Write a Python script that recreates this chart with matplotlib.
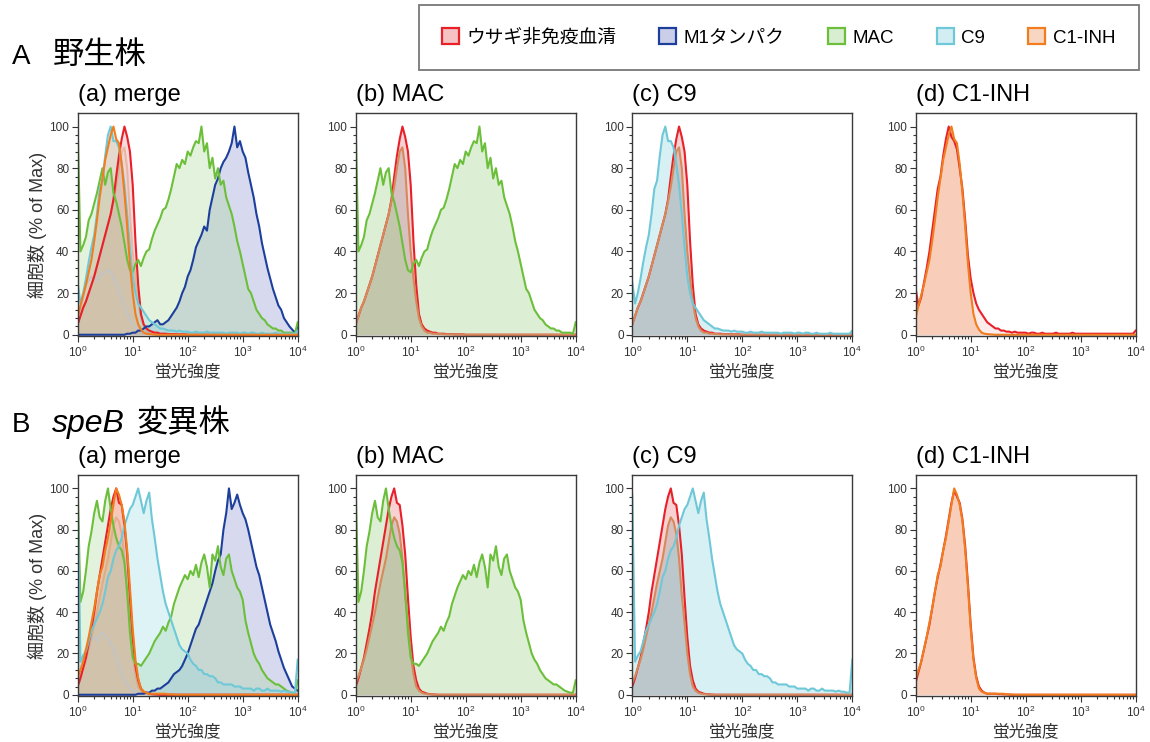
import numpy as np
import matplotlib.pyplot as plt
from matplotlib.patches import Patch
from matplotlib.ticker import FixedLocator, FuncFormatter, LogLocator, NullFormatter

# フォント設定（ラテン文字 + 日本語フォールバック）
plt.rcParams['font.family'] = ['Liberation Sans', 'Noto Sans CJK JP']
plt.rcParams['mathtext.fontset'] = 'custom'
plt.rcParams['mathtext.rm'] = 'Liberation Sans'
plt.rcParams['mathtext.it'] = 'Liberation Sans:italic'

# ヒストグラムのビン位置 (log10 蛍光強度, 0.05 刻み)
bins_log10 = np.arange(81) * 0.05

# ---- A 野生株 ----
A_red = [5, 9, 13, 16, 20, 24, 28, 33, 38, 43,
         48, 53, 58, 65, 76, 86, 94, 100, 95, 88,
         72, 45, 24, 10, 5, 3, 2, 1.5, 1, 1,
         0.5, 0.5, 0.5, 0.3, 0.3, 0.3, 0.2, 0.2, 0.2, 0.2,
         0, 0, 0, 0, 0, 0, 0, 0, 0, 0,
         0, 0, 0, 0, 0, 0, 0, 0, 0, 0,
         0, 0, 0, 0, 0, 0, 0, 0, 0, 0,
         0, 0, 0, 0, 0, 0, 0, 0, 0, 0,
         0]
A_red_d = [22, 14, 18, 25, 32, 40, 50, 60, 70, 76,
           86, 94, 100, 95, 93, 89, 80, 70, 55, 38,
           27, 20, 15, 12, 10, 8, 6, 5, 4, 3,
           3, 2, 2, 1.5, 1.5, 1, 1.5, 1, 1, 1,
           1, 0.5, 1, 1, 0.5, 0.5, 1, 0.5, 0.5, 0.5,
           0.5, 1, 0.5, 0.5, 0.5, 0.5, 0.5, 1, 0.5, 0.5,
           0.5, 0.5, 0.5, 0.5, 0.5, 0.5, 0.5, 0.5, 0.5, 0.5,
           0.5, 0.5, 0.5, 0.5, 0.5, 0.5, 0.5, 0.5, 0.5, 0.5,
           2]
A_blue = [0, 0, 0, 0, 0, 0, 0, 0, 0, 0,
          0, 0, 0, 0, 0, 0, 0, 0, 0.5, 0.5,
          1, 1, 2, 2, 3, 4, 4, 5, 6, 7,
          5, 5, 6, 7, 9, 11, 13, 16, 20, 23,
          28, 31, 36, 42, 45, 48, 52, 50, 60, 66,
          72, 75, 80, 83, 85, 88, 92, 100, 90, 93,
          88, 85, 78, 72, 66, 58, 52, 44, 38, 32,
          27, 22, 18, 14, 12, 8, 6, 4, 2.5, 1,
          4]
A_green = [100, 40, 43, 47, 55, 58, 63, 68, 74, 80,
           72, 78, 80, 68, 64, 58, 52, 44, 36, 31,
           30, 34, 36, 33, 37, 40, 41, 46, 50, 53,
           56, 60, 61, 65, 70, 76, 82, 80, 84, 82,
           88, 86, 90, 93, 92, 100, 88, 92, 80, 85,
           75, 80, 72, 74, 66, 62, 58, 52, 45, 40,
           34, 28, 22, 20, 16, 12, 10, 8, 7, 5,
           4, 3, 3, 2, 2, 1, 1, 1, 1, 0.5,
           6]
A_cyan = [25, 15, 20, 27, 35, 42, 48, 58, 70, 74,
          86, 96, 100, 93, 93, 90, 82, 72, 58, 42,
          28, 20, 15, 13, 11, 9, 7, 6, 5, 4,
          3, 3, 2.5, 2, 2, 2, 1.5, 2, 1.5, 1.5,
          1.5, 1, 1, 1.5, 1, 1, 1, 1.5, 1, 1,
          1, 1, 1, 1, 0.5, 1, 1, 1, 1, 0.5,
          1, 1, 0.5, 1, 1, 0.5, 0.5, 1, 0.5, 0.5,
          0.5, 0.5, 1, 0.5, 0.5, 0.5, 0.5, 0.5, 0.5, 0.5,
          2]
A_orange = [8, 14, 19, 24, 30, 36, 45, 55, 66, 75,
            84, 90, 96, 100, 94, 92, 82, 68, 52, 34,
            20, 10, 5, 2.5, 1, 0.5, 0.3, 0.2, 0.1, 0,
            0, 0, 0, 0, 0, 0, 0, 0, 0, 0,
            0, 0, 0, 0, 0, 0, 0, 0, 0, 0,
            0, 0, 0, 0, 0, 0, 0, 0, 0, 0,
            0, 0, 0, 0, 0, 0, 0, 0, 0, 0,
            0, 0, 0, 0, 0, 0, 0, 0, 0, 0,
            0]
A_ctrl = [5, 9, 13, 16, 20, 24, 28, 33, 38, 43,
          48, 53, 58, 64, 71, 80, 88, 90, 80, 58,
          40, 27, 16, 8, 4, 2, 1, 1, 0.5, 0.5,
          0.3, 0.3, 0.2, 0.2, 0.2, 0.2, 0.1, 0.1, 0.1, 0.1,
          0, 0, 0, 0, 0, 0, 0, 0, 0, 0,
          0, 0, 0, 0, 0, 0, 0, 0, 0, 0,
          0, 0, 0, 0, 0, 0, 0, 0, 0, 0,
          0, 0, 0, 0, 0, 0, 0, 0, 0, 0,
          0]
A_gray = [5, 12, 18, 24, 26, 28, 27, 26, 28, 29,
          30, 31, 30, 27, 25, 21, 17, 13, 10, 7,
          5, 3, 2, 1.5, 1, 0.5, 0.5, 0.3, 0.2, 0.1,
          0, 0, 0, 0, 0, 0, 0, 0, 0, 0,
          0, 0, 0, 0, 0, 0, 0, 0, 0, 0,
          0, 0, 0, 0, 0, 0, 0, 0, 0, 0,
          0, 0, 0, 0, 0, 0, 0, 0, 0, 0,
          0, 0, 0, 0, 0, 0, 0, 0, 0, 0,
          0]

# ---- B speB 変異株 ----
B_red = [4, 8, 13, 18, 25, 32, 40, 50, 58, 66,
         74, 82, 90, 96, 100, 93, 92, 82, 68, 47,
         28, 14, 7, 3, 1.5, 1, 0.5, 0.3, 0.2, 0.1,
         0, 0, 0, 0, 0, 0, 0, 0, 0, 0,
         0, 0, 0, 0, 0, 0, 0, 0, 0, 0,
         0, 0, 0, 0, 0, 0, 0, 0, 0, 0,
         0, 0, 0, 0, 0, 0, 0, 0, 0, 0,
         0, 0, 0, 0, 0, 0, 0, 0, 0, 0,
         0]
B_red_d = [6, 11, 16, 22, 28, 34, 42, 50, 57, 63,
           70, 77, 85, 93, 99, 96, 93, 85, 72, 54,
           34, 18, 9, 4, 2, 1, 0.5, 0.5, 0.5, 0.5,
           0.3, 0.3, 0.2, 0.2, 0.1, 0, 0, 0, 0, 0,
           0, 0, 0, 0, 0, 0, 0, 0, 0, 0,
           0, 0, 0, 0, 0, 0, 0, 0, 0, 0,
           0, 0, 0, 0, 0, 0, 0, 0, 0, 0,
           0, 0, 0, 0, 0, 0, 0, 0, 0, 0,
           0]
B_blue = [0, 0, 0, 0, 0, 0, 0, 0, 0, 0,
          0, 0, 0, 0, 0, 0, 0, 0, 0, 0,
          0, 0, 0.5, 0.5, 0.5, 1, 1, 2, 2, 3,
          3, 4, 5, 6, 8, 10, 11, 12, 14, 17,
          20, 24, 28, 32, 34, 38, 42, 46, 50, 54,
          60, 65, 68, 80, 88, 100, 90, 93, 97, 92,
          88, 85, 80, 74, 68, 62, 58, 52, 46, 40,
          34, 30, 26, 21, 17, 13, 10, 7, 4, 3,
          2]
B_green = [100, 45, 50, 60, 72, 79, 88, 94, 86, 84,
           94, 100, 90, 82, 76, 72, 70, 64, 50, 30,
           18, 15, 15, 14, 16, 18, 20, 23, 26, 28,
           30, 33, 31, 35, 38, 44, 48, 52, 55, 58,
           56, 60, 58, 63, 57, 64, 68, 62, 52, 68,
           65, 72, 62, 58, 66, 68, 60, 56, 52, 50,
           46, 36, 30, 25, 20, 17, 15, 12, 10, 8,
           7, 6, 5, 5, 4, 3, 2, 1.5, 1, 1,
           7]
B_cyan = [97, 16, 19, 21, 26, 31, 34, 37, 40, 44,
          50, 57, 60, 66, 70, 72, 76, 82, 86, 90,
          92, 96, 100, 94, 88, 94, 98, 85, 76, 66,
          58, 50, 44, 40, 36, 32, 28, 24, 22, 21,
          20, 17, 15, 14, 12, 12, 10, 10, 9, 9,
          8, 6, 6, 5, 5, 5, 5, 4, 4, 4,
          3, 3, 3, 3, 2, 3, 3, 2, 2, 3,
          2, 2, 2, 2, 1.5, 2, 1.5, 1.5, 1, 1,
          17]
B_orange = [8, 12, 16, 22, 28, 35, 42, 50, 58, 62,
            70, 76, 84, 92, 100, 97, 92, 84, 70, 52,
            32, 17, 8, 3, 1.5, 1, 0.5, 0.5, 0.5, 0.5,
            0.5, 0.5, 0.5, 0.2, 0.2, 0.1, 0, 0, 0, 0,
            0, 0, 0, 0, 0, 0, 0, 0, 0, 0,
            0, 0, 0, 0, 0, 0, 0, 0, 0, 0,
            0, 0, 0, 0, 0, 0, 0, 0, 0, 0,
            0, 0, 0, 0, 0, 0, 0, 0, 0, 0,
            0]
B_ctrl = [6, 9, 13, 17, 22, 28, 34, 40, 47, 54,
          60, 66, 74, 82, 86, 84, 78, 66, 48, 35,
          20, 10, 4, 2, 1, 0.5, 0.3, 0.2, 0.1, 0,
          0, 0, 0, 0, 0, 0, 0, 0, 0, 0,
          0, 0, 0, 0, 0, 0, 0, 0, 0, 0,
          0, 0, 0, 0, 0, 0, 0, 0, 0, 0,
          0, 0, 0, 0, 0, 0, 0, 0, 0, 0,
          0, 0, 0, 0, 0, 0, 0, 0, 0, 0,
          0]
B_gray = [5, 12, 18, 22, 25, 27, 28, 26, 29, 30,
          28, 27, 25, 22, 18, 14, 10, 7, 5, 3,
          2, 1.5, 1, 0.5, 0.5, 0.3, 0.2, 0.1, 0, 0,
          0, 0, 0, 0, 0, 0, 0, 0, 0, 0,
          0, 0, 0, 0, 0, 0, 0, 0, 0, 0,
          0, 0, 0, 0, 0, 0, 0, 0, 0, 0,
          0, 0, 0, 0, 0, 0, 0, 0, 0, 0,
          0, 0, 0, 0, 0, 0, 0, 0, 0, 0,
          0]

legend_labels = ['ウサギ非免疫血清', 'M1タンパク', 'MAC', 'C9', 'C1-INH']
panel_titles = ['(a) merge', '(b) MAC', '(c) C9', '(d) C1-INH']
xlabel = '蛍光強度'
ylabel = '細胞数 (% of Max)'

# 線色, 塗り色, 塗りalpha
styles = {
    'red':    ('#e8202a', '#e86a6a', 0.30),
    'red_d':  ('#e8202a', '#e86a6a', 0.12),
    'blue':   ('#1d3f9c', '#7f86c8', 0.38),
    'green':  ('#6cbf3a', '#9fd58a', 0.36),
    'cyan':   ('#6ec8d8', '#8fd6e2', 0.36),
    'orange': ('#f07d1e', '#f29a66', 0.36),
    'ctrl':   ('#d68a5c', '#a8a8a8', 0.42),
    'gray':   ('#c4c4c4', None, 0.0),
}

rows = [
    {'red': A_red, 'red_d': A_red_d, 'blue': A_blue, 'green': A_green,
     'cyan': A_cyan, 'orange': A_orange, 'ctrl': A_ctrl, 'gray': A_gray},
    {'red': B_red, 'red_d': B_red_d, 'blue': B_blue, 'green': B_green,
     'cyan': B_cyan, 'orange': B_orange, 'ctrl': B_ctrl, 'gray': B_gray},
]
panel_series = [
    ['gray', 'ctrl', 'red', 'blue', 'green', 'cyan', 'orange'],
    ['red', 'ctrl', 'green'],
    ['red', 'ctrl', 'cyan'],
    ['red_d', 'orange'],
]

W, H = 1150, 742
fig = plt.figure(figsize=(W / 100, H / 100), dpi=100)

lefts = [77.7, 355.7, 632.3, 915.7]
row_box = [(113, 336), (475, 696)]
xs = 10 ** bins_log10

for r, data in enumerate(rows):
    top, bot = row_box[r]
    for c in range(4):
        ax = fig.add_axes([lefts[c] / W, 1 - bot / H, 220 / W, (bot - top) / H])
        for key in panel_series[c]:
            lc, fc, fa = styles[key]
            la = 1.0
            y = np.array(data[key], dtype=float)
            if c == 0 and key == 'ctrl':
                fa, la = 0.12, 0.4
            if c == 0 and key != 'ctrl':
                fa = fa * 0.8
            if fc is not None:
                ax.fill_between(xs, y, 0, color=fc, alpha=fa, lw=0)
            ax.plot(xs, y, color=lc, lw=1.5, alpha=la, solid_joinstyle='round')
        ax.set_xscale('log')
        ax.set_xlim(1, 1e4)
        ax.set_ylim(-0.6, 106.5)
        ax.xaxis.set_major_locator(FixedLocator([1, 10, 100, 1000, 10000]))
        ax.xaxis.set_major_formatter(FuncFormatter(
            lambda v, p: r'$\mathregular{10^{%d}}$' % round(np.log10(v))))
        ax.xaxis.set_minor_locator(LogLocator(base=10, subs=np.arange(2, 10)))
        ax.xaxis.set_minor_formatter(NullFormatter())
        ax.set_yticks([0, 20, 40, 60, 80, 100])
        ax.yaxis.set_minor_locator(FixedLocator(np.arange(0, 101, 4)))
        ax.tick_params(which='both', direction='out', colors='#333333',
                       labelsize=8.5, width=0.8, pad=2)
        ax.tick_params(which='major', length=4)
        ax.tick_params(which='minor', length=2)
        for s in ax.spines.values():
            s.set_color('#3a3a3a')
            s.set_linewidth(1.0)
        ax.set_title(panel_titles[c], loc='left', pad=8.5, fontsize=17)
        ax.set_xlabel(xlabel, fontsize=12, color='#333333', labelpad=3)
        if c == 0:
            ax.set_ylabel(ylabel, fontsize=13, color='#333333', labelpad=2)

# 行見出し
fig.text(12 / W, 1 - 64 / H, 'A', fontsize=20, va='baseline')
fig.text(53 / W, 1 - 64 / H, '野生株', fontsize=22.5, va='baseline')
fig.text(12 / W, 1 - 432 / H, 'B', fontsize=20, va='baseline')
fig.text(52 / W, 1 - 432 / H, 'speB', fontsize=23, va='baseline', style='italic')
fig.text(137 / W, 1 - 432 / H, '変異株', fontsize=22.5, va='baseline')

# 凡例
keys = ['red', 'blue', 'green', 'cyan', 'orange']
handles = [Patch(facecolor=styles[k][1] + '66', edgecolor=styles[k][0], linewidth=1.6)
           for k in keys]
leg = fig.legend(handles, legend_labels, loc='center', ncol=5,
                 bbox_to_anchor=(778.5 / W, 1 - 37.5 / H), fontsize=13.5,
                 frameon=True, fancybox=False, edgecolor='#555555',
                 handlelength=0.9, handleheight=0.9, handletextpad=0.4,
                 columnspacing=2.3, borderpad=1.25)
leg.get_frame().set_linewidth(1.3)

fig.savefig('out.png', dpi=100)
